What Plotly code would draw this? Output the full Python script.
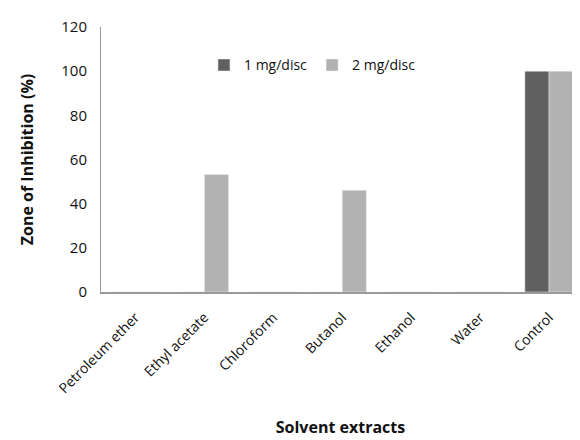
import plotly.graph_objects as go

categories = ["Petroleum ether", "Ethyl acetate", "Chloroform", "Butanol", "Ethanol", "Water", "Control"]
dose1 = [0, 0, 0, 0, 0, 0, 100]
dose2 = [0, 53.2, 0, 46.1, 0, 0, 100]
series_names = ["1 mg/disc", "2 mg/disc"]
y_ticks = [0, 20, 40, 60, 80, 100, 120]

font_family = "Open Sans, Noto Sans, sans-serif"

fig = go.Figure()
fig.add_trace(go.Bar(x=categories, y=dose1, name=series_names[0], marker_color="#606060"))
fig.add_trace(go.Bar(x=categories, y=dose2, name=series_names[1], marker_color="#b2b2b2"))

fig.update_layout(
    width=580, height=440,
    margin=dict(l=93, r=8, t=9, b=156),
    paper_bgcolor="white", plot_bgcolor="white",
    barmode="group", bargap=0.3, bargroupgap=0,
    font=dict(family=font_family, size=14, color="#111"),
    legend=dict(orientation="h", x=0.215, y=0.855, xanchor="left", yanchor="middle",
                bgcolor="rgba(0,0,0,0)", font=dict(size=14), itemwidth=30,
                tracegroupgap=0),
)
fig.update_xaxes(
    range=[-0.5, 6.45], tickangle=-45, showline=True, linecolor="#9a9a9a", linewidth=1.5,
    showgrid=False, ticks="", tickfont=dict(size=14),
    ticklabelstandoff=10,
    title=dict(text="<b>Solvent extracts</b>", font=dict(size=16), standoff=26),
)
fig.update_yaxes(
    range=[0, 120], tickvals=y_ticks, showline=True, linecolor="#9a9a9a", linewidth=1,
    showgrid=False, zeroline=False, ticks="", tickfont=dict(size=15),
    ticklabelstandoff=10, ticklabeloverflow="allow",
    title=dict(text="<b>Zone of Inhibition (%)</b>", font=dict(size=16), standoff=23),
)
fig.write_html("out.html")
